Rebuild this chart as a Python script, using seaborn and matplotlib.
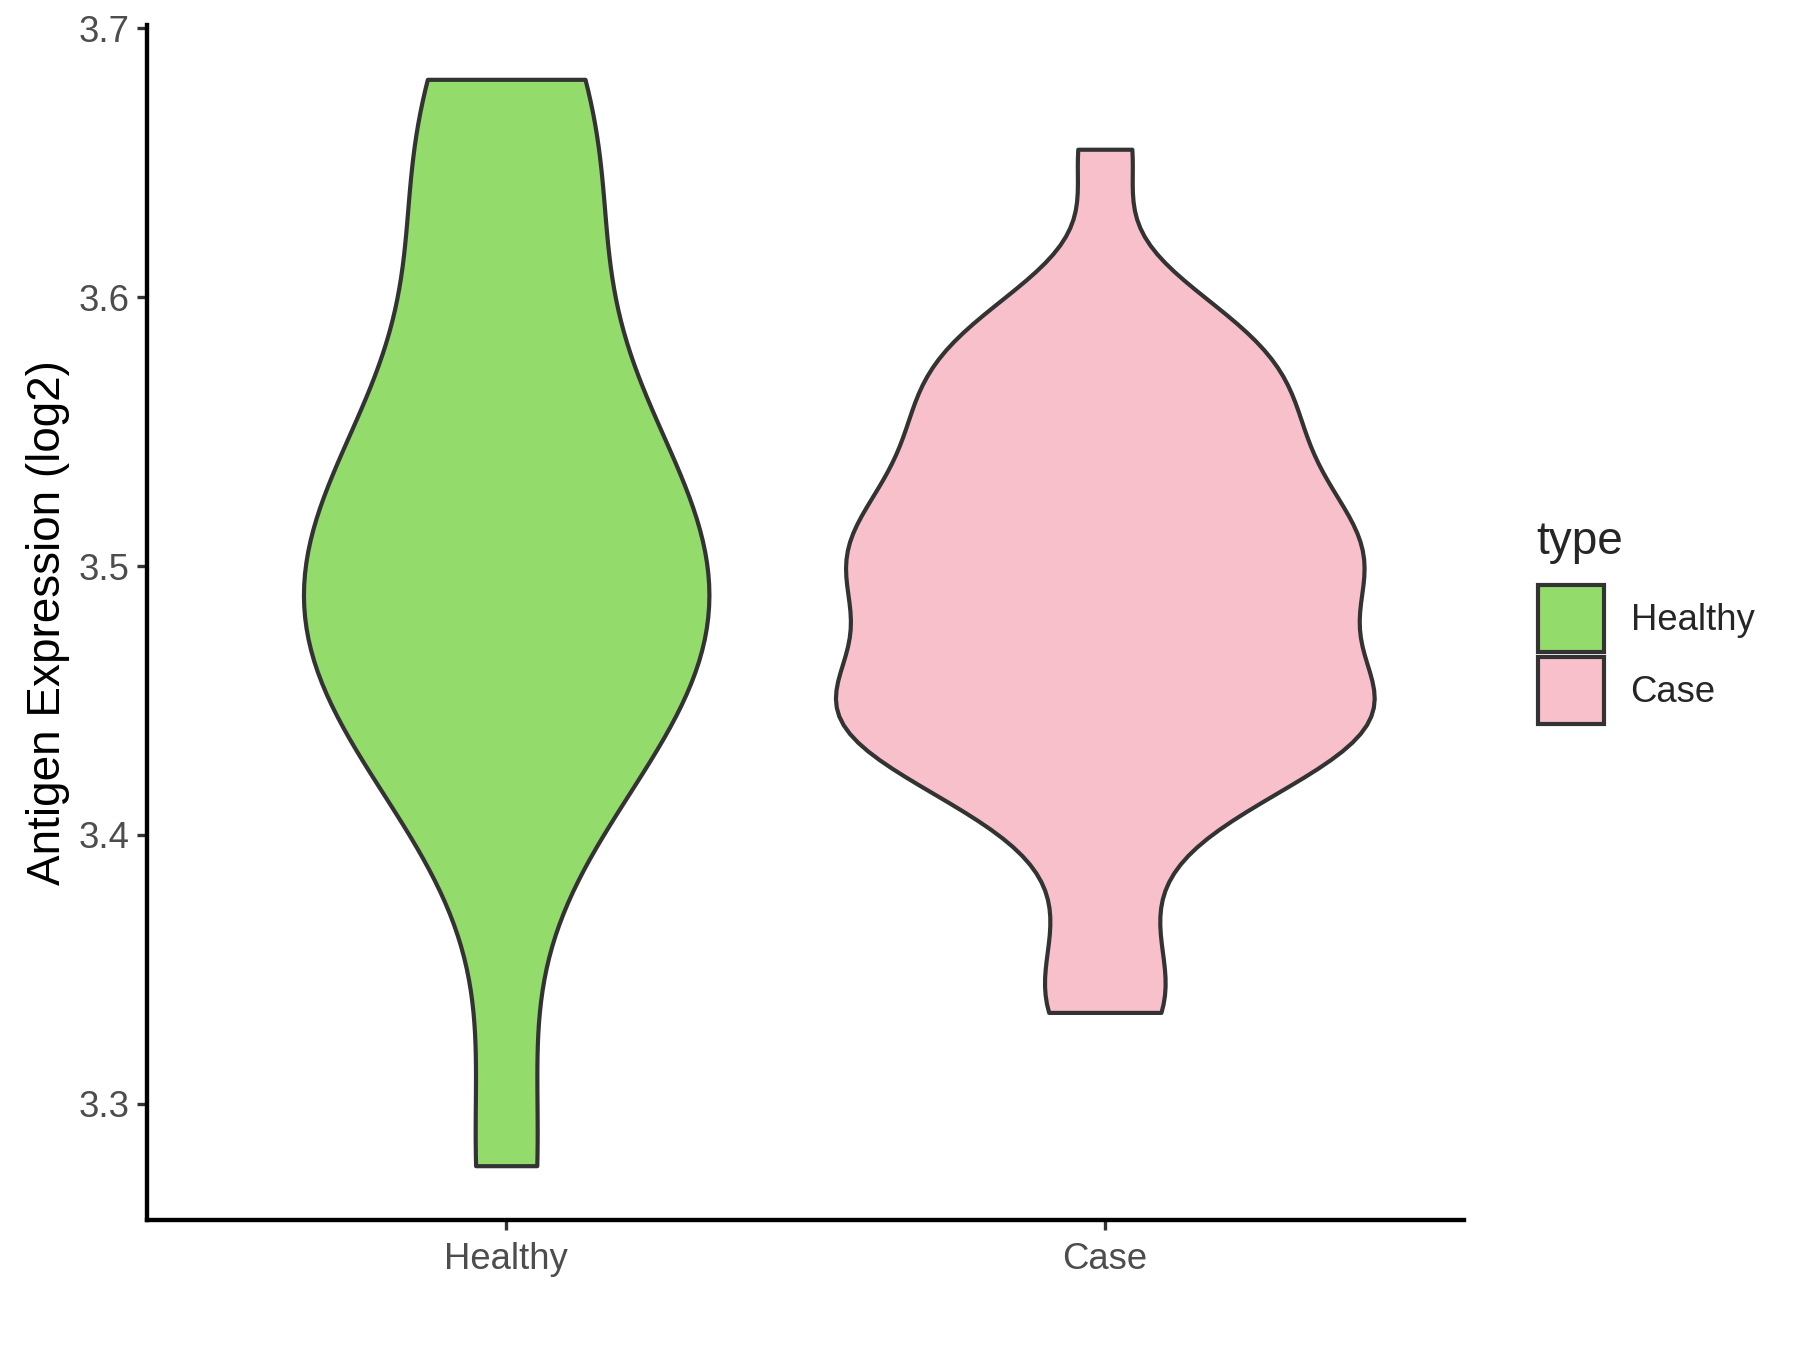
import numpy as np
import pandas as pd
import seaborn as sns
import matplotlib
matplotlib.use("Agg")
from matplotlib import pyplot as plt
from matplotlib.patches import Patch

sns.set_theme(style="ticks")
plt.rcParams['font.family'] = ['Liberation Sans', 'DejaVu Sans']

categories = ["Healthy", "Case"]
colors = ["#93DB6B", "#F8C0CB"]
healthy_values = [3.277, 3.422, 3.440, 3.457, 3.473, 3.488, 3.503, 3.518, 3.537, 3.558,
                  3.630, 3.660, 3.681]
case_values = [3.334, 3.340, 3.372, 3.404, 3.415, 3.423, 3.429, 3.434, 3.438, 3.442,
               3.446, 3.450, 3.454, 3.458, 3.463, 3.470, 3.479, 3.487, 3.492, 3.496,
               3.500, 3.504, 3.508, 3.513, 3.519, 3.525, 3.532, 3.539, 3.547, 3.554,
               3.561, 3.568, 3.575, 3.582, 3.590, 3.599, 3.655]
y_ticks = [3.3, 3.4, 3.5, 3.6, 3.7]
y_label = "Antigen Expression (log2)"
legend_title = "type"

df = pd.DataFrame({
    "type": ["Healthy"] * len(healthy_values) + ["Case"] * len(case_values),
    "value": healthy_values + case_values,
})


def group_bw(kde):
    # each violin gets its own bandwidth, the small healthy group a wider one
    return 0.5 if kde.n == len(healthy_values) else 0.3


fig = plt.figure(figsize=(12, 9), dpi=150)
ax = fig.add_axes([147 / 1800, 130 / 1350, (1464 - 147) / 1800, (1220 - 25) / 1350])

sns.violinplot(data=df, x="type", y="value", hue="type", order=categories,
               hue_order=categories, palette=colors, cut=0, density_norm="area",
               common_norm=True, width=0.9, inner=None, linewidth=2.0,
               linecolor="#333333", saturation=1, bw_method=group_bw, legend=False, ax=ax)

# ggplot-like limits (5% padding, discrete 0.6 expansion)
vmin, vmax = df["value"].min(), df["value"].max()
pad = 0.05 * (vmax - vmin)
ax.set_ylim(vmin - pad, vmax + pad)
ax.set_xlim(-0.6, 1.6)
ax.set_yticks(y_ticks)
ax.set_yticklabels([f"{t:.1f}" for t in y_ticks])

ax.set_xlabel("")
ax.set_ylabel(y_label, fontsize=22, color="black", labelpad=4)
sns.despine(ax=ax)
for s in ["left", "bottom"]:
    ax.spines[s].set_linewidth(2.1)
    ax.spines[s].set_color("black")
ax.tick_params(length=5, width=1.6, color="#333333", labelsize=17.5,
               labelcolor="#4D4D4D", pad=3.4)
ax.tick_params(axis="x", pad=5.4)

# legend: title as plain text, square keys below it
fig.text(1536 / 1800, 1 - 542 / 1350, legend_title, fontsize=22, va="center", ha="left")
handles = [Patch(facecolor=c, edgecolor="#333333", linewidth=2.0) for c in colors]
ax.legend(handles, categories, loc="upper left",
          bbox_to_anchor=(1538 / 1800, 1 - 585 / 1350), bbox_transform=fig.transFigure,
          frameon=False, fontsize=17.5, handlelength=1.82, handleheight=2.45,
          labelspacing=0.14, handletextpad=0.72, borderaxespad=0, borderpad=0)

fig.savefig("out.png", dpi=150)
